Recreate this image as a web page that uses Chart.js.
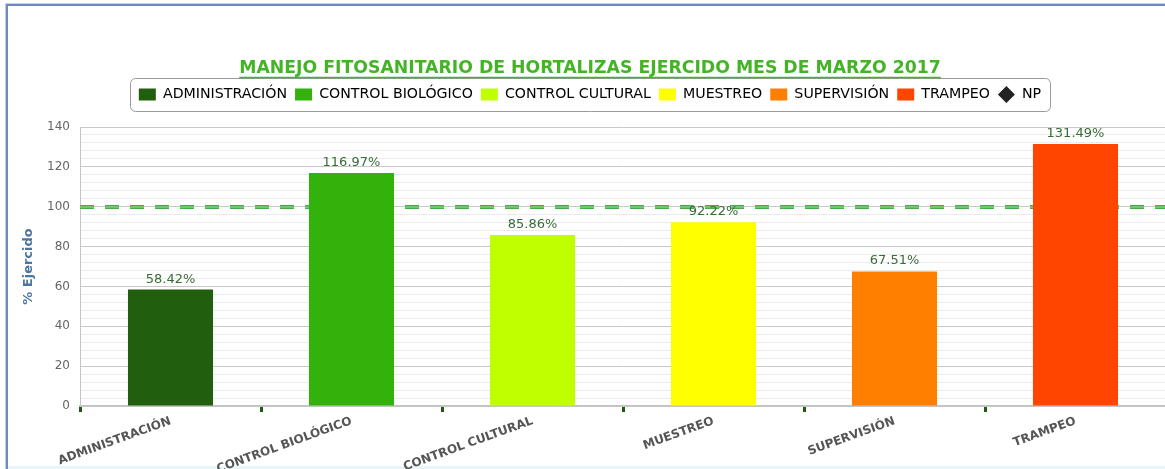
<!DOCTYPE html>
<html lang="es">
<head>
<meta charset="utf-8">
<title>Manejo fitosanitario de hortalizas</title>
<script src="https://cdn.jsdelivr.net/npm/chart.js@4.4.1/dist/chart.umd.min.js"></script>
<style>
  html, body { margin: 0; padding: 0; background: #fff; overflow: hidden; }
  body { width: 1165px; height: 469px; position: relative; }
  #marco { position: absolute; left: 6px; top: 4px; width: 1200px; height: 500px;
           border-left: 2px solid #6d89bd; border-top: 2px solid #6d89bd;
           box-shadow: -1px -1px 0 #c3d2ea; }
  #pie { position: absolute; left: 8px; right: 0; bottom: 0; height: 3px; background: #e9f6f9; }
  #grafica { position: absolute; left: 7px; top: 0; }
</style>
</head>
<body>
<div id="marco"></div>
<div id="pie"></div>
<canvas id="grafica" width="1166" height="469"></canvas>
<script>
const categorias = ['ADMINISTRACIÓN', 'CONTROL BIOLÓGICO', 'CONTROL CULTURAL', 'MUESTREO', 'SUPERVISIÓN', 'TRAMPEO'];
const ejercido = [58.42, 116.97, 85.86, 92.22, 67.51, 131.49];
const colores = ['#215e0d', '#33b20b', '#bfff00', '#ffff00', '#ff7f00', '#ff4500'];
const metaPct = 100;
const etiquetasY = [0, 20, 40, 60, 80, 100, 120, 140];
const titulo = 'MANEJO FITOSANITARIO DE HORTALIZAS EJERCIDO MES DE MARZO 2017';

const fuente = '"DejaVu Sans", Verdana, sans-serif';
const verdeTitulo = '#44b426';
const tituloSize = 17.3;
const tituloPadTop = 58.5;

// un dataset por categoria para que cada barra salga en la leyenda
const datasets = categorias.map((nombre, i) => ({
    label: nombre,
    data: categorias.map((_, j) => (j === i ? ejercido[i] : null)),
    backgroundColor: colores[i],
    borderWidth: 0,
    pointStyle: 'rect'
}));

datasets.push({
    type: 'line',
    label: 'NP',
    data: [],
    backgroundColor: '#222',
    borderColor: '#222',
    pointStyle: 'rectRot',
    showLine: false
});

// linea discontinua de la meta (100%)
const lineaMeta = {
    id: 'lineaMeta',
    beforeDatasetsDraw(chart) {
        const { ctx, chartArea, scales } = chart;
        const y = Math.round(scales.y.getPixelForValue(metaPct));
        ctx.save();
        ctx.setLineDash([14, 11]);
        ctx.beginPath();
        ctx.moveTo(chartArea.left, y);
        ctx.lineTo(chartArea.right, y);
        ctx.lineWidth = 4;
        ctx.strokeStyle = '#47ae47';
        ctx.stroke();
        ctx.lineWidth = 1;
        ctx.strokeStyle = '#9fd89f';
        ctx.stroke();
        ctx.restore();
    }
};

// porcentajes encima de cada barra
const etiquetasBarras = {
    id: 'etiquetasBarras',
    afterDatasetsDraw(chart) {
        const { ctx } = chart;
        ctx.save();
        ctx.font = '13px ' + fuente;
        ctx.fillStyle = '#3a6c3a';
        ctx.textAlign = 'center';
        ctx.textBaseline = 'alphabetic';
        categorias.forEach((_, i) => {
            const barra = chart.getDatasetMeta(i).data[i];
            if (!barra) return;
            ctx.fillText(ejercido[i].toFixed(2) + '%', barra.x, barra.y - 7);
        });
        ctx.restore();
    }
};

// marco redondeado de la leyenda y subrayado del titulo
const adornos = {
    id: 'adornos',
    afterDraw(chart) {
        const { ctx } = chart;
        const cajas = chart.legend.legendHitBoxes;
        if (cajas && cajas.length) {
            const izq = Math.min(...cajas.map(c => c.left)) - 9;
            const der = Math.max(...cajas.map(c => c.left + c.width)) + 9;
            const cy = cajas[0].top + cajas[0].height / 2;
            ctx.save();
            ctx.beginPath();
            ctx.roundRect(Math.round(izq) + 0.5, Math.round(cy - 16.5) + 0.5, Math.round(der - izq), 33, 5);
            ctx.strokeStyle = '#9a9a9a';
            ctx.lineWidth = 1;
            ctx.stroke();
            ctx.restore();
        }

        const t = chart.titleBlock;
        ctx.save();
        ctx.font = 'bold ' + tituloSize + 'px ' + fuente;
        const w = ctx.measureText(titulo).width;
        const cx = (t.left + t.right) / 2;
        const y = t.top + tituloPadTop + tituloSize * 0.6 + 8.5;
        ctx.beginPath();
        ctx.moveTo(cx - w / 2, y);
        ctx.lineTo(cx + w / 2, y);
        ctx.lineWidth = 1.5;
        ctx.strokeStyle = verdeTitulo;
        ctx.stroke();
        ctx.restore();
    }
};

// espacio extra bajo la leyenda
const espacioLeyenda = {
    id: 'espacioLeyenda',
    beforeInit(chart) {
        const fitOriginal = chart.legend.fit;
        chart.legend.fit = function () {
            fitOriginal.bind(chart.legend)();
            this.height += 15.3;
        };
    }
};

new Chart(document.getElementById('grafica'), {
    type: 'bar',
    data: {
        labels: categorias,
        datasets: datasets
    },
    options: {
        responsive: false,
        animation: false,
        layout: { padding: { left: 7, right: 7, top: 0, bottom: 0 } },
        datasets: {
            bar: {
                grouped: false,
                categoryPercentage: 1,
                barPercentage: 0.47
            }
        },
        plugins: {
            tooltip: { enabled: false },
            title: {
                display: true,
                text: titulo,
                color: verdeTitulo,
                font: { family: fuente, size: tituloSize, weight: 'bold' },
                padding: { top: tituloPadTop, bottom: 0.24 }
            },
            legend: {
                display: true,
                position: 'top',
                labels: {
                    usePointStyle: true,
                    pointStyleWidth: 17,
                    boxHeight: 12,
                    padding: 8,
                    color: '#3e576f',
                    font: { family: fuente, size: 14.2 },
                    generateLabels: (chart) => chart.data.datasets.map((ds, i) => ({
                        text: ds.label,
                        fillStyle: ds.backgroundColor,
                        strokeStyle: ds.backgroundColor,
                        lineWidth: 0,
                        pointStyle: ds.pointStyle,
                        hidden: !chart.isDatasetVisible(i),
                        datasetIndex: i
                    }))
                }
            }
        },
        scales: {
            x: {
                afterFit: (scale) => { scale.height = 63; },
                grid: {
                    display: true,
                    drawOnChartArea: false,
                    drawTicks: true,
                    tickLength: 6,
                    tickWidth: 3,
                    tickColor: '#1f5a12',
                    offset: true
                },
                border: { display: true, color: '#c4c4c4', width: 2 },
                ticks: {
                    autoSkip: false,
                    maxRotation: 20,
                    minRotation: 20,
                    padding: 2,
                    color: '#555',
                    font: { family: fuente, size: 12, weight: 'bold' }
                }
            },
            y: {
                min: 0,
                max: 140,
                afterFit: (scale) => { scale.width = 66; },
                border: { display: true, color: '#c4c4c4', width: 1 },
                grid: {
                    drawTicks: false,
                    color: (c) => (etiquetasY.includes(c.tick.value) ? '#c8c8c8' : '#ebebeb')
                },
                ticks: {
                    stepSize: 4,
                    autoSkip: false,
                    padding: 10,
                    color: '#666',
                    font: { family: fuente, size: 12 },
                    callback: (v) => (etiquetasY.includes(v) ? v : '')
                },
                title: {
                    display: true,
                    text: '% Ejercido',
                    color: '#4d759e',
                    padding: { top: 7, bottom: 0 },
                    font: { family: fuente, size: 13, weight: 'bold' }
                }
            }
        }
    },
    plugins: [espacioLeyenda, lineaMeta, etiquetasBarras, adornos]
});
</script>
</body>
</html>
